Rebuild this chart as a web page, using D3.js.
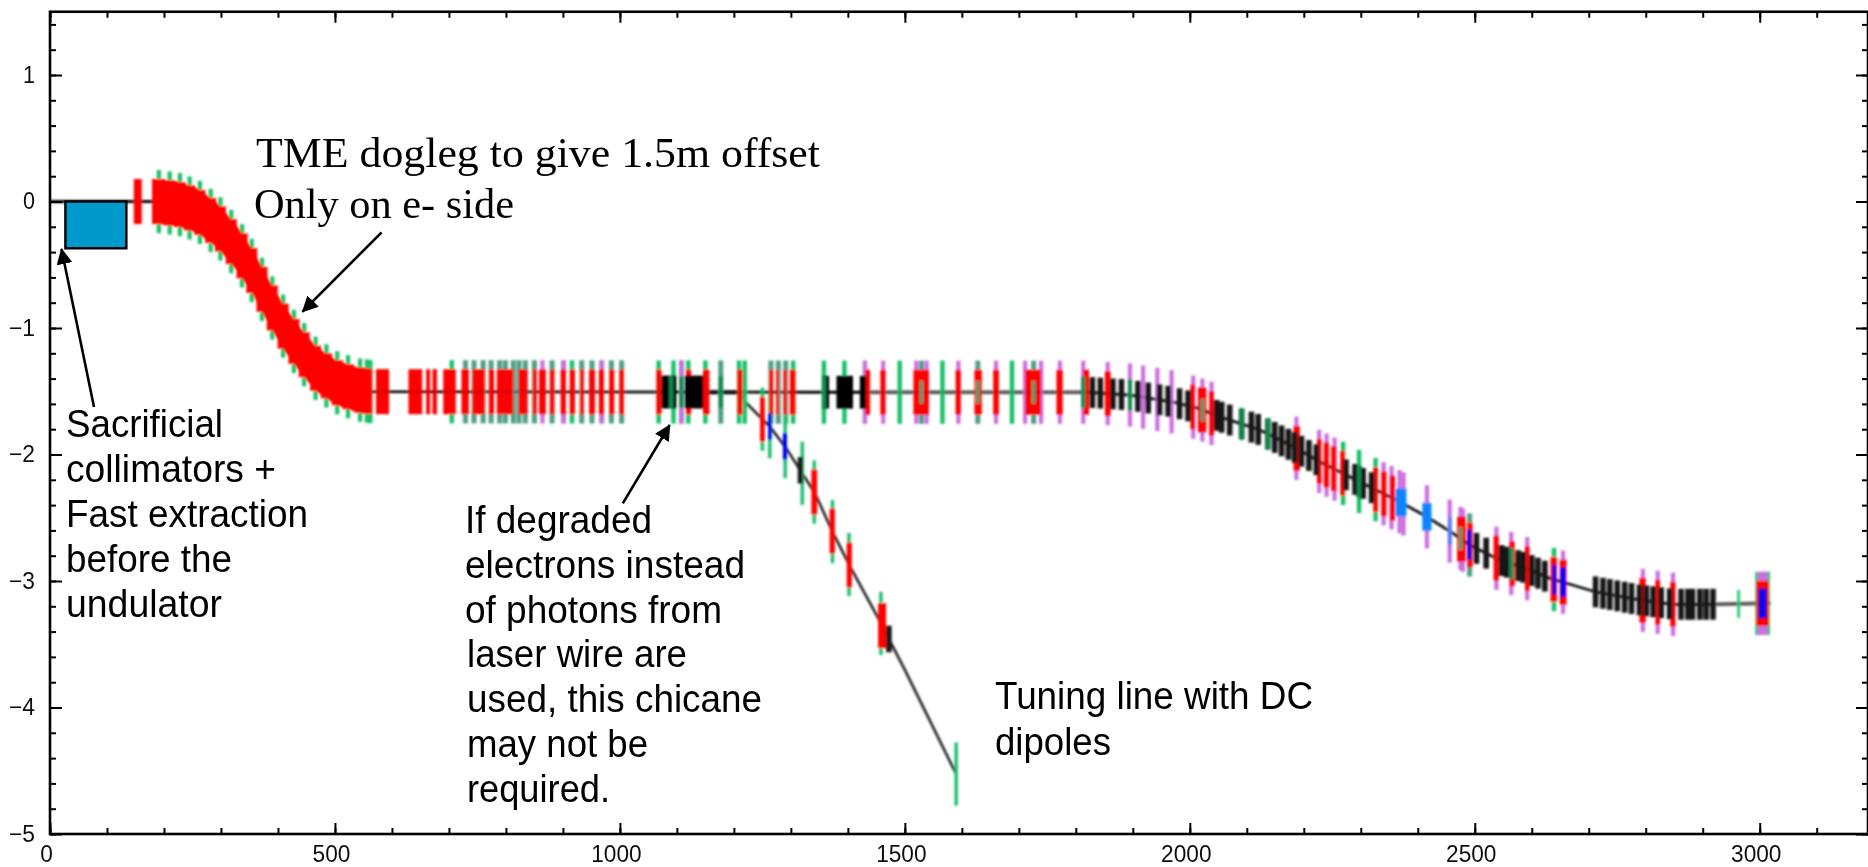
<!DOCTYPE html>
<html>
<head>
<meta charset="utf-8">
<script src="https://cdn.jsdelivr.net/npm/d3@7"></script>
<style>
    body { margin: 0; background: #fff; }
    svg { display: block; }
    .frame { fill: none; stroke: #000; stroke-width: 2.6; }
    .tick line, .minor line { stroke: #000; stroke-width: 2; }
    .domain { display: none; }
    .tick text { font-family: "Liberation Sans", sans-serif; font-size: 23px; fill: #111; }
    .sans { font-family: "Liberation Sans", Arial, sans-serif; font-size: 38px; fill: #000; }
    .serif { font-family: "Liberation Serif", serif; font-size: 42px; fill: #000; }
    .arrow { stroke: #000; stroke-width: 2.6; fill: none; }
</style>
</head>
<body>
<svg id="chart" width="1868" height="867"></svg>
<script>
// beamline centre (s in m, offset in m)
const doglegS = [179, 190, 225, 259, 294, 329, 356, 384, 412, 440, 467, 502, 537, 563]
const doglegY = [0, 0, -0.02, -0.073, -0.19, -0.375, -0.559, -0.796, -1.008, -1.179, -1.324, -1.43, -1.487, -1.503]
const straightS = [1430, 1820, 1895, 1968, 2012, 2061, 2123, 2187, 2228, 2298, 2368, 2415, 2462, 2491, 2544, 2591, 2632, 2661, 2711, 2789, 2848, 2924, 3019]
const straightY = [-1.508, -1.508, -1.53, -1.583, -1.632, -1.714, -1.806, -1.951, -2.057, -2.215, -2.373, -2.49, -2.623, -2.715, -2.834, -2.9, -2.979, -3.018, -3.085, -3.15, -3.184, -3.184, -3.176]
const branchS = [1210, 1222, 1263, 1290, 1342, 1374, 1404, 1453, 1500, 1590]
const branchY = [-1.514, -1.595, -1.78, -1.938, -2.304, -2.62, -2.887, -3.292, -3.703, -4.526]

// elements on the dogleg
const doglegQuadS = [191, 210, 228, 245, 263, 282, 299, 318, 337, 354, 372, 390, 409, 428, 446, 466, 485, 504, 523, 544, 556]

// elements on the main line
const greenS = [562, 705, 916, 1068, 1094, 1120, 1150, 1209, 1219, 1304, 1358, 1394, 1430, 1491, 1566, 1688, 2269, 2297, 2326, 2639, 2996, 3014]
const tealS = [729, 744, 760, 774, 789, 799, 813, 823, 834, 850, 881, 901, 933, 951, 968, 985, 1003, 1108, 1177, 1265, 1278, 1291, 1529, 1628, 1726, 2491]
const purpleS = [864, 901, 968, 1108, 1430, 1462, 1520, 1538, 1594, 1660, 1711, 1739, 1772, 1813, 1856, 1895, 1918, 1943, 1968, 2006, 2022, 2038, 2187, 2227, 2240, 2254, 2340, 2354, 2368, 2375, 2416, 2456, 2475, 2479, 2538, 2564, 2592, 2655, 2795, 2821, 2848, 3000, 3005, 3010]
const redBlocks = [[147, 161], [572, 595], [629, 653], [660, 667], [671, 679], [690, 712], [722, 735], [741, 763], [770, 779], [784, 813], [822, 838], [847, 854], [858, 870], [877, 885], [896, 905], [912, 921], [930, 937], [946, 956], [963, 972], [981, 990], [999, 1007], [1064, 1073], [1116, 1125], [1146, 1157], [1206, 1215], [1262, 1269], [1274, 1279], [1287, 1293], [1298, 1308], [1430, 1439], [1457, 1466], [1515, 1542], [1589, 1598], [1622, 1635], [1655, 1665], [1711, 1739], [1766, 1777], [1813, 1823], [1851, 1861], [2001, 2009], [2014, 2029], [2034, 2042], [2182, 2193], [2223, 2231], [2235, 2244], [2248, 2257], [2264, 2272], [2322, 2330], [2336, 2345], [2351, 2360], [2469, 2484], [2487, 2496], [2533, 2542], [2561, 2570], [2588, 2596], [2633, 2644], [2649, 2661], [2789, 2800], [2817, 2825], [2843, 2852], [2994, 3016]]
const blackBlocks = [[1073, 1099], [1114, 1146], [1355, 1367], [1380, 1409], [1421, 1432]]
const blackS = [1829, 1843, 1865, 1880, 1909, 1927, 1947, 1962, 1982, 1997, 2047, 2056, 2070, 2091, 2108, 2120, 2137, 2149, 2161, 2173, 2184, 2196, 2209, 2222, 2274, 2290, 2297, 2304, 2319, 2503, 2520, 2547, 2556, 2576, 2585, 2600, 2611, 2623, 2712, 2725, 2737, 2750, 2763, 2775, 2789, 2801, 2813, 2827, 2842, 2862, 2874, 2882, 2895, 2906, 2918]
const darkGreenS = [1090, 1108, 1177, 1358, 1813, 1895, 2091, 2137, 2297, 2564]
const innerS = [1529, 1628, 1726, 2022, 2475]
const azureBlocks = [[2361, 2380], [2408, 2424], [2454, 2459]]
const blueBlocks = [[2487, 2494], [2636, 2643], [2650, 2660], [2998, 3012]]
const shortGreenS = [2963]

// elements on the tuning line
const branchGreenS = [1250, 1263, 1290, 1320, 1341, 1373, 1402, 1458, 1590]
const branchRed = [[1246, 1254], [1336, 1346], [1368, 1377], [1398, 1407], [1453, 1467]]
const branchBlue = [[1260, 1266], [1286, 1293]]
const branchBlack = [[1312, 1321], [1467, 1477]]

// sacrificial collimator box
const collimatorS = [27, 134]
const collimatorY = [0, -0.37]

const xMajor = [0, 500, 1000, 1500, 2000, 2500, 3000]
const yMajor = [1, 0, -1, -2, -3, -4, -5]

const margin = { top: 11.75, bottom: 33, left: 50, right: 0 }
const dims = { width: 1868, height: 867 }

var x = d3.scaleLinear().domain([0, 3190]).range([margin.left, dims.width - margin.right])
var y = d3.scaleLinear().domain([-5, 1.5]).range([dims.height - margin.bottom, margin.top])

const mainS = [0].concat(doglegS, straightS)
const mainY = [0].concat(doglegY, straightY)
var beam = d3.scaleLinear().domain(mainS).range(mainY)
var branch = d3.scaleLinear().domain(branchS).range(branchY)

var svg = d3.select('#chart')
var defs = svg.append('defs')

defs.append('filter').attr('id', 'soft')
    .attr('x', '-5%').attr('y', '-5%').attr('width', '110%').attr('height', '110%')
    .append('feGaussianBlur').attr('stdDeviation', 0.8)
defs.append('filter').attr('id', 'softer')
    .attr('x', '-5%').attr('y', '-5%').attr('width', '110%').attr('height', '110%')
    .append('feGaussianBlur').attr('stdDeviation', 0.35)

defs.append('marker').attr('id', 'head')
    .attr('viewBox', '0 0 16 16')
    .attr('refX', 15).attr('refY', 8)
    .attr('markerWidth', 16).attr('markerHeight', 16)
    .attr('markerUnits', 'userSpaceOnUse')
    .attr('orient', 'auto')
    .append('path').attr('d', 'M0,0L16,8L0,16Z').attr('fill', '#000')

var marks = svg.append('g').attr('filter', 'url(#soft)')

var lineGen = d3.line().x(d => x(d[0])).y(d => y(d[1]))

function drawLine(g, ss, ys, color, width, opacity) {
    g.append('path')
     .attr('d', lineGen(ss.map((s, i) => [s, ys[i]])))
     .attr('fill', 'none')
     .attr('stroke', color)
     .attr('stroke-width', width)
     .attr('opacity', opacity === undefined ? 1 : opacity)
}

// draws single elements, centred on the beam line
function bars(list, path, half, width, color, opacity) {
    marks.append('g').selectAll('rect')
        .data(list)
        .enter().append('rect')
        .attr('x', d => x(d) - width / 2)
        .attr('width', width)
        .attr('y', d => y(path(d) + half))
        .attr('height', y(-half) - y(half))
        .attr('fill', color)
        .attr('opacity', opacity === undefined ? 1 : opacity)
}

// same thing for elements given as [start, end]
function blocks(list, path, half, color, opacity) {
    marks.append('g').selectAll('rect')
        .data(list)
        .enter().append('rect')
        .attr('x', d => x(d[0]))
        .attr('width', d => x(d[1]) - x(d[0]))
        .attr('y', d => y(path((d[0] + d[1]) / 2) + half))
        .attr('height', y(-half) - y(half))
        .attr('fill', color)
        .attr('opacity', opacity === undefined ? 1 : opacity)
}

// beam lines underneath everything
drawLine(marks, mainS.filter(s => s <= 1430), mainY.filter((v, i) => mainS[i] <= 1430), '#000', 2.8)
drawLine(marks, mainS.filter(s => s >= 1430 && s <= 1820), mainY.filter((v, i) => mainS[i] >= 1430 && mainS[i] <= 1820), '#6a6a6a', 4)
drawLine(marks, mainS.filter(s => s >= 1820 && s <= 2924), mainY.filter((v, i) => mainS[i] >= 1820 && mainS[i] <= 2924), '#111', 2.8)
drawLine(marks, mainS.filter(s => s >= 2924), mainY.filter((v, i) => mainS[i] >= 2924), '#6a6a6a', 4)
drawLine(marks, branchS, branchY, '#222', 2.6)
drawLine(marks, [1157, 1209], [-1.508, -1.508], '#000', 4)

// tall quads
bars(doglegQuadS, beam, 0.25, 4.2, '#18c066')
bars(greenS, beam, 0.25, 4.4, '#18c066')
bars(tealS, beam, 0.25, 5, '#4f9f86')
bars(purpleS, beam, 0.25, 4.2, '#cc6ee0')
bars(branchGreenS, branch, 0.25, 3.6, '#25c072')
bars(shortGreenS, beam, 0.11, 3.2, '#30d27e')

// red bends, dogleg as one band with the bend magnets on top of it
marks.append('path')
    .attr('d', d3.area()
        .x((d, i) => x(doglegS[i]))
        .y0((d, i) => y(doglegY[i] - 0.178))
        .y1((d, i) => y(doglegY[i] + 0.178))(doglegS))
    .attr('fill', '#ff0000')
bars(doglegQuadS, beam, 0.178, 11, '#ff0000')
blocks(redBlocks, beam, 0.178, '#ff0000')
blocks(branchRed, branch, 0.178, '#ff0000')

drawLine(marks, mainS.filter(s => s >= 563), mainY.filter((v, i) => mainS[i] >= 563), '#222', 2, 0.25)

bars(innerS, beam, 0.09, 3.5, '#3f9f70')
bars(blackS, beam, 0.122, 5.6, '#141414')
blocks(blackBlocks, beam, 0.13, '#050505')
blocks(branchBlack, branch, 0.105, '#1a1a1a')
bars(darkGreenS, beam, 0.125, 4.2, '#0d8a4e')
blocks(azureBlocks, beam, 0.11, '#0a84ff')
blocks(blueBlocks, beam, 0.118, '#0000ee')
blocks(branchBlue, branch, 0.105, '#0000ee')

// collimator
svg.append('rect')
   .attr('x', x(collimatorS[0]))
   .attr('y', y(collimatorY[0]))
   .attr('width', x(collimatorS[1]) - x(collimatorS[0]))
   .attr('height', y(collimatorY[1]) - y(collimatorY[0]))
   .attr('fill', '#0099cc')
   .attr('stroke', '#000')
   .attr('stroke-width', 2.4)

// axes, ticks point inward on all four sides
var axes = svg.append('g').attr('filter', 'url(#softer)')
var xMinor = d3.range(0, 3200, 100)
var yMinor = d3.range(-5, 1.5, 0.2)

function addAxis(axis, tx, ty, cls) {
    return axes.append('g').attr('class', cls).attr('transform', `translate(${tx},${ty})`).call(axis)
}

var bottomY = y(-5), topY = y(1.5), leftX = x(0), rightX = x(3190)

addAxis(d3.axisBottom(x).tickValues(xMinor).tickSize(-6).tickFormat(''), 0, bottomY, 'minor')
addAxis(d3.axisTop(x).tickValues(xMinor).tickSize(-6).tickFormat(''), 0, topY, 'minor')
addAxis(d3.axisLeft(y).tickValues(yMinor).tickSize(-6).tickFormat(''), leftX, 0, 'minor')
addAxis(d3.axisRight(y).tickValues(yMinor).tickSize(-6).tickFormat(''), rightX, 0, 'minor')

var xAxisG = addAxis(d3.axisBottom(x).tickValues(xMajor).tickSize(-11).tickPadding(12).tickFormat(d3.format('d')), 0, bottomY, 'major')
addAxis(d3.axisTop(x).tickValues(xMajor).tickSize(-11).tickFormat(''), 0, topY, 'major')
var yAxisG = addAxis(d3.axisLeft(y).tickValues(yMajor).tickSize(-12).tickPadding(21).tickFormat(d3.format('d')), leftX, 0, 'major')
addAxis(d3.axisRight(y).tickValues(yMajor).tickSize(-12).tickFormat(''), rightX, 0, 'major')

xAxisG.selectAll('text')
      .attr('dx', -4)
      .attr('textLength', d => String(d).length * 12.6)
      .attr('lengthAdjust', 'spacingAndGlyphs')
yAxisG.selectAll('text')
      .attr('dx', 6)
      .attr('textLength', d => d < 0 ? 26 : 12)
      .attr('lengthAdjust', 'spacingAndGlyphs')

axes.append('rect').attr('class', 'frame')
    .attr('x', leftX).attr('y', topY)
    .attr('width', rightX - leftX).attr('height', bottomY - topY)

// annotations: text, left edge, right edge, baseline
const serifNotes = [
    ['TME dogleg to give 1.5m offset', 256, 820, 167],
    ['Only on e- side', 254, 514, 218],
]
const sansNotes = [
    ['Sacrificial', 66, 223, 437],
    ['collimators +', 66, 276, 482],
    ['Fast extraction', 66, 308, 527],
    ['before the', 66, 232, 572],
    ['undulator', 66, 222, 617],
    ['If degraded', 465, 652, 533],
    ['electrons instead', 465, 745, 578],
    ['of photons from', 465, 722, 623],
    ['laser wire are', 467, 687, 667],
    ['used, this chicane', 467, 762, 712],
    ['may not be', 467, 648, 757],
    ['required.', 467, 610, 802],
    ['Tuning line with DC', 995, 1313, 709],
    ['dipoles', 995, 1111, 755],
]

function notes(list, cls) {
    svg.append('g').selectAll('text')
       .data(list)
       .enter().append('text')
       .attr('class', cls)
       .attr('x', d => d[1])
       .attr('y', d => d[3])
       .attr('textLength', d => d[2] - d[1])
       .attr('lengthAdjust', 'spacingAndGlyphs')
       .text(d => d[0])
}
notes(serifNotes, 'serif')
notes(sansNotes, 'sans')

const arrows = [
    [94, 407, 61.5, 249],
    [381.6, 232.3, 302.5, 311.7],
    [622.8, 503.3, 669.7, 425],
]
svg.append('g').selectAll('line')
   .data(arrows)
   .enter().append('line')
   .attr('class', 'arrow')
   .attr('x1', d => d[0]).attr('y1', d => d[1])
   .attr('x2', d => d[2]).attr('y2', d => d[3])
   .attr('marker-end', 'url(#head)')
</script>
</body>
</html>
